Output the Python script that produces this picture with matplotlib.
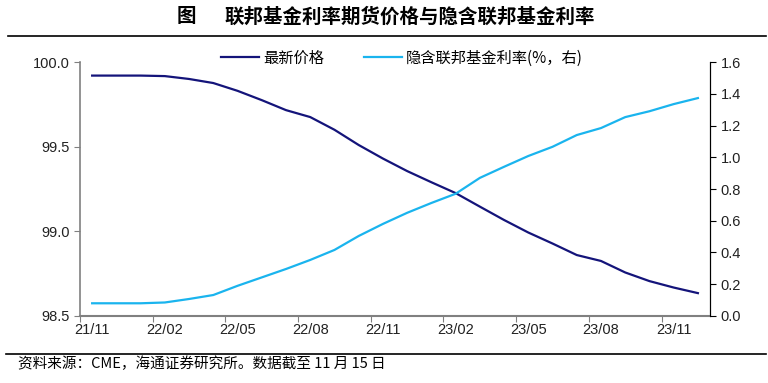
import matplotlib.pyplot as plt
from matplotlib.lines import Line2D

plt.rcParams['font.family'] = ['Liberation Sans', 'Noto Sans CJK SC', 'DejaVu Sans']

# monthly points, 21/11 ... 24/01
price = [99.92, 99.92, 99.92, 99.917, 99.90, 99.876, 99.83, 99.775, 99.716, 99.675,
         99.60, 99.51, 99.43, 99.356, 99.29, 99.226, 99.146, 99.067, 98.993, 98.928,
         98.86, 98.825, 98.757, 98.706, 98.668, 98.635]
rate = [0.08, 0.08, 0.08, 0.085, 0.107, 0.132, 0.19, 0.243, 0.296, 0.353,
        0.416, 0.504, 0.58, 0.65, 0.712, 0.77, 0.87, 0.94, 1.008, 1.066,
        1.14, 1.184, 1.253, 1.29, 1.335, 1.373]
tick_labels = ['21/11', '22/02', '22/05', '22/08', '22/11', '23/02', '23/05', '23/08', '23/11']

x = [i + 0.5 for i in range(len(price))]
cjk = ['Noto Sans CJK SC', 'DejaVu Sans']

fig = plt.figure(figsize=(7.68, 3.83), dpi=100)
ax = fig.add_axes([0.1042, 0.175, 0.8203, 0.663])
ax2 = ax.twinx()

navy = '#14147a'
cyan = '#1ab4ee'
ax.plot(x, price, color=navy, lw=1.6, solid_joinstyle='round')
ax2.plot(x, rate, color=cyan, lw=1.6, solid_joinstyle='round')

ax.set_xlim(0, 26)
ax.set_ylim(98.5, 100.0)
ax.set_yticks([98.5, 99.0, 99.5, 100.0])
ax.set_yticklabels(['98.5', '99.0', '99.5', '100.0'])
ax2.set_ylim(0, 1.6)
ax2.set_yticks([i * 0.2 for i in range(9)])
ax2.set_yticklabels([f'{i * 0.2:.1f}' for i in range(9)])

ax.set_xticks(range(0, 25, 3))
ax.set_xticklabels([])
ax.set_xticks([i * 3 + 0.5 for i in range(len(tick_labels))], minor=True)
ax.set_xticklabels(tick_labels, minor=True)
ax.tick_params(axis='x', which='minor', length=0, pad=5, labelsize=10.5, colors='#222222')
ax.tick_params(axis='x', which='major', length=4, direction='out', color='#808080')
ax.tick_params(axis='y', length=4, color='#808080', labelsize=10.5, labelcolor='#222222')
ax2.tick_params(axis='y', length=4, color='black', labelsize=10.5, labelcolor='#222222')

for a in (ax, ax2):
    a.spines['top'].set_visible(False)
ax.spines['left'].set_color('#808080')
ax.spines['bottom'].set_color('#808080')
ax.spines['left'].set_linewidth(1.2)
ax.spines['bottom'].set_linewidth(1.5)
ax2.spines['left'].set_visible(False)
ax2.spines['bottom'].set_visible(False)
ax2.spines['right'].set_color('black')

handles = [Line2D([], [], color=navy, lw=1.6), Line2D([], [], color=cyan, lw=1.6)]
fig.legend(handles, ['最新价格', '隐含联邦基金利率(%，右)'], loc='center',
           bbox_to_anchor=(0.523, 1 - 58 / 383), ncol=2, frameon=False,
           handlelength=2.5, handletextpad=0.25, columnspacing=2.6,
           prop={'family': cjk, 'size': 11})

fig.text(186 / 768, 1 - 17 / 383, '图', ha='center', va='center',
         fontsize=14, fontweight='bold', family=cjk)
fig.text(410 / 768, 1 - 17 / 383, '联邦基金利率期货价格与隐含联邦基金利率', ha='center', va='center',
         fontsize=14, fontweight='bold', family=cjk)
fig.add_artist(Line2D([8 / 768, 766 / 768], [1 - 35.5 / 383] * 2, color='black', lw=1.2))
fig.add_artist(Line2D([6 / 768, 766 / 768], [1 - 354 / 383] * 2, color='black', lw=1.2))
fig.text(18 / 768, 1 - 364 / 383, '资料来源：CME，海通证券研究所。数据截至 11 月 15 日', ha='left', va='center',
         fontsize=10.5, family=cjk)

fig.savefig('out.png', dpi=100)
